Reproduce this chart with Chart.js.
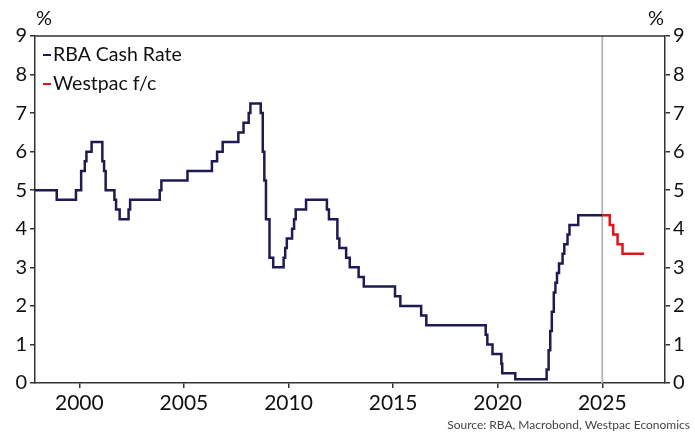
<!DOCTYPE html>
<html>
<head>
<meta charset="utf-8">
<script src="https://cdn.jsdelivr.net/npm/chart.js@4/dist/chart.umd.min.js"></script>
<style>
  html, body { margin: 0; padding: 0; background: #fff; }
  #wrap { width: 695px; height: 434px; }
</style>
</head>
<body>
<div id="wrap"><canvas id="rateChart" width="695" height="434"></canvas></div>
<script>
// RBA cash rate target: date of each change and the new rate (%)
const rbaDates = [
  '1997-07-30', '1998-12-02', '1999-11-03', '2000-02-02', '2000-04-05', '2000-05-03',
  '2000-08-02', '2001-02-07', '2001-03-07', '2001-04-04', '2001-09-05', '2001-10-03',
  '2001-12-05', '2002-05-08', '2002-06-05', '2003-11-05', '2003-12-03', '2005-03-02',
  '2006-05-03', '2006-08-02', '2006-11-08', '2007-08-08', '2007-11-07', '2008-02-06',
  '2008-03-05', '2008-09-03', '2008-10-08', '2008-11-05', '2008-12-03', '2009-02-04',
  '2009-04-08', '2009-10-07', '2009-11-04', '2009-12-02', '2010-03-03', '2010-04-07',
  '2010-05-05', '2010-11-03', '2011-11-02', '2011-12-07', '2012-05-02', '2012-06-06',
  '2012-10-03', '2012-12-05', '2013-05-08', '2013-08-07', '2015-02-04', '2015-05-06',
  '2016-05-04', '2016-08-03', '2019-06-05', '2019-07-03', '2019-10-02', '2020-03-04',
  '2020-03-20', '2020-11-04', '2022-05-04', '2022-06-08', '2022-07-06', '2022-08-03',
  '2022-09-07', '2022-10-05', '2022-11-02', '2022-12-07', '2023-02-08', '2023-03-08',
  '2023-05-03', '2023-06-07', '2023-11-08', '2025-01-01'
];
const rbaRates = [
  5.00, 4.75, 5.00, 5.50, 5.75, 6.00,
  6.25, 5.75, 5.50, 5.00, 4.75, 4.50,
  4.25, 4.50, 4.75, 5.00, 5.25, 5.50,
  5.75, 6.00, 6.25, 6.50, 6.75, 7.00,
  7.25, 7.00, 6.00, 5.25, 4.25, 3.25,
  3.00, 3.25, 3.50, 3.75, 4.00, 4.25,
  4.50, 4.75, 4.50, 4.25, 3.75, 3.50,
  3.25, 3.00, 2.75, 2.50, 2.25, 2.00,
  1.75, 1.50, 1.25, 1.00, 0.75, 0.50,
  0.25, 0.10, 0.35, 0.85, 1.35, 1.85,
  2.35, 2.60, 2.85, 3.10, 3.35, 3.60,
  3.85, 4.10, 4.35, 4.35
];

// Westpac forecast path
const fcDates = ['2025-01-01', '2025-05-10', '2025-07-10', '2025-09-25', '2025-12-20', '2026-12-31'];
const fcRates = [4.35, 4.10, 3.85, 3.60, 3.35, 3.35];

// end of actual data
const forecastStart = 2025;

const yearTicks = [2000, 2005, 2010, 2015, 2020, 2025];
const rateTicks = [0, 1, 2, 3, 4, 5, 6, 7, 8, 9];

const NAVY = '#1d1b52';
const RED = '#e3131b';
const AXIS = '#333333';
const FONT = 'Lato, "Open Sans", sans-serif';

function toYear(s) {
  const [y, m, d] = s.split('-').map(Number);
  return y + (m - 1) / 12 + (d - 1) / 365;
}

function toPoints(dates, rates) {
  return dates.map((d, i) => ({ x: toYear(d), y: rates[i] }));
}

// top border, legend, unit labels and source line
const decorations = {
  id: 'decorations',
  afterDraw(chart) {
    const { ctx, chartArea } = chart;
    ctx.save();
    ctx.strokeStyle = AXIS;
    ctx.lineWidth = 1.5;
    ctx.beginPath();
    ctx.moveTo(chartArea.left, chartArea.top);
    ctx.lineTo(chartArea.right, chartArea.top);
    ctx.stroke();

    ctx.fillStyle = '#111';
    ctx.font = '20px ' + FONT;
    ctx.textBaseline = 'middle';
    ctx.textAlign = 'center';
    ctx.fillText('%', 44, 19);
    ctx.fillText('%', 656, 19);

    ctx.font = '19.5px ' + FONT;
    const items = [['RBA Cash Rate', NAVY], ['Westpac f/c', RED]];
    items.forEach(([label, color], i) => {
      const y = 55 + i * 29;
      ctx.strokeStyle = color;
      ctx.lineWidth = 2;
      ctx.beginPath();
      ctx.moveTo(43, y);
      ctx.lineTo(51, y);
      ctx.stroke();
      ctx.fillStyle = '#111';
      ctx.textAlign = 'left';
      ctx.fillText(label, 53, y);
    });

    ctx.fillStyle = '#444';
    ctx.font = '12px ' + FONT;
    ctx.textAlign = 'right';
    ctx.fillText('Source: RBA, Macrobond, Westpac Economics', 690, 425);
    ctx.restore();
  }
};

function yAxis(position, width) {
  return {
    position: position,
    min: 0,
    max: 9,
    afterBuildTicks: s => { s.ticks = rateTicks.map(v => ({ value: v })); },
    afterFit: s => { s.width = width; },
    ticks: { font: { family: FONT, size: 20 }, color: '#111', padding: 3 },
    grid: { drawOnChartArea: false, tickLength: 5, color: AXIS, lineWidth: 1.5 },
    border: { display: true, color: AXIS, width: 1.5 }
  };
}

new Chart(document.getElementById('rateChart').getContext('2d'), {
  type: 'line',
  data: {
    datasets: [
      {
        label: 'RBA Cash Rate',
        data: toPoints(rbaDates, rbaRates),
        borderColor: NAVY,
        borderWidth: 2.5,
        stepped: true,
        order: 1
      },
      {
        label: 'Westpac f/c',
        data: toPoints(fcDates, fcRates),
        borderColor: RED,
        borderWidth: 2.5,
        stepped: true,
        order: 2
      },
      {
        label: 'forecast start',
        data: [{ x: forecastStart, y: 0 }, { x: forecastStart, y: 9 }],
        borderColor: '#b5b5b5',
        borderWidth: 1.8,
        order: 3
      }
    ]
  },
  options: {
    responsive: false,
    animation: false,
    devicePixelRatio: 1,
    layout: { padding: { top: 36, left: 0, right: 0, bottom: 0 } },
    elements: { point: { radius: 0 }, line: { tension: 0 } },
    plugins: { legend: { display: false }, tooltip: { enabled: false } },
    scales: {
      x: {
        type: 'linear',
        min: 1997.88,
        max: 2028,
        afterBuildTicks: s => { s.ticks = yearTicks.map(v => ({ value: v })); },
        afterFit: s => { s.height = 51; },
        ticks: { font: { family: FONT, size: 21 }, color: '#111', padding: 3, callback: v => String(v) },
        grid: { drawOnChartArea: false, tickLength: 5, color: AXIS, lineWidth: 1.5 },
        border: { display: true, color: AXIS, width: 1.5 }
      },
      y: yAxis('left', 35),
      y2: yAxis('right', 30)
    }
  },
  plugins: [decorations]
});
</script>
</body>
</html>
